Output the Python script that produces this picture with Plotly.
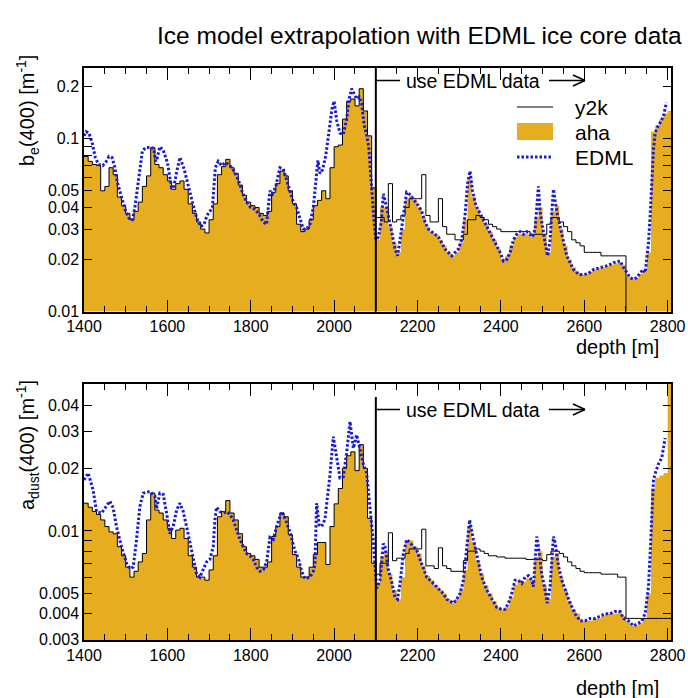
import plotly.graph_objects as go

# ---------------- data ----------------
bin_width = 10
depth_bins = list(range(1400, 2810, 10))  # bin left edges 1400..2800

# top panel (b_e) : aha histogram (left part identical to y2k)
be_aha_left = [0.079, 0.074, 0.071, 0.070, 0.050, 0.053, 0.068, 0.062, 0.046, 0.041,
               0.037, 0.034, 0.038, 0.043, 0.053, 0.061, 0.089, 0.071, 0.068, 0.062,
               0.057, 0.051, 0.055, 0.057, 0.051, 0.042, 0.037, 0.033, 0.030, 0.0285,
               0.034, 0.042, 0.062, 0.069, 0.076, 0.068, 0.063, 0.054, 0.047, 0.043,
               0.041, 0.040, 0.037, 0.036, 0.038, 0.049, 0.055, 0.065, 0.061, 0.050,
               0.042, 0.032, 0.029, 0.030, 0.034, 0.041, 0.044, 0.050, 0.045, 0.068,
               0.090, 0.092, 0.130, 0.165, 0.170, 0.155, 0.195, 0.145, 0.104, 0.052]
be_aha_right = [0.026, 0.040, 0.040, 0.031, 0.025, 0.022, 0.030, 0.045, 0.047, 0.044,
                0.040, 0.035, 0.031, 0.029, 0.028, 0.026, 0.024, 0.022, 0.021, 0.022,
                0.025, 0.034, 0.058, 0.046, 0.039, 0.035, 0.032, 0.029, 0.026, 0.023,
                0.020, 0.021, 0.024, 0.027, 0.028, 0.028, 0.028, 0.027, 0.035, 0.040,
                0.028, 0.022, 0.038, 0.041, 0.030, 0.024, 0.020, 0.018, 0.0168, 0.0164,
                0.0165, 0.017, 0.0175, 0.0178, 0.018, 0.0183, 0.0186, 0.019, 0.0192, 0.0185,
                0.016, 0.0155, 0.0155, 0.0165, 0.017, 0.022, 0.110, 0.120, 0.130, 0.140,
                0.145]
be_y2k_right = [0.035, 0.035, 0.033, 0.055, 0.033, 0.034, 0.036, 0.040, 0.045, 0.045,
                0.045, 0.062, 0.036, 0.033, 0.033, 0.045, 0.031, 0.028, 0.028, 0.026,
                0.026, 0.028, 0.034, 0.034, 0.036, 0.035, 0.034, 0.032, 0.031, 0.030,
                0.029, 0.029, 0.029, 0.029, 0.029, 0.029, 0.029, 0.028, 0.028, 0.028,
                0.028, 0.032, 0.035, 0.035, 0.033, 0.031, 0.029, 0.026, 0.025, 0.024,
                0.022, 0.022, 0.022, 0.022, 0.021, 0.021, 0.021, 0.021, 0.021, 0.021,
                0.005, 0.005, 0.005, 0.005, 0.005, 0.005, 0.005, 0.005, 0.005, 0.005,
                0.005]

be_edml_depth = [1400, 1405, 1412, 1420, 1427, 1435, 1445, 1452, 1460, 1467, 1473, 1480, 1490,
                 1500, 1510, 1516, 1522, 1530, 1540, 1548, 1560, 1567, 1572, 1576, 1582, 1590,
                 1600, 1610, 1615, 1622, 1630, 1640, 1650, 1660, 1670, 1680, 1688, 1695, 1702,
                 1708, 1715, 1722, 1730, 1740, 1750, 1760, 1770, 1780, 1790, 1800, 1810, 1820,
                 1830, 1838, 1846, 1852, 1860, 1870, 1878, 1886, 1894, 1902, 1910, 1918, 1926,
                 1934, 1942, 1950, 1956, 1961, 1966, 1972, 1980, 1988, 1995, 2000, 2006, 2014,
                 2022, 2030, 2036, 2042, 2048, 2054, 2060, 2066, 2072, 2078, 2083, 2090, 2095,
                 2100, 2106, 2113, 2118, 2124, 2130, 2138, 2146, 2152, 2158, 2166, 2174, 2180,
                 2186, 2194, 2202, 2210, 2218, 2226, 2234, 2242, 2250, 2258, 2266, 2274, 2282,
                 2290, 2298, 2306, 2314, 2320, 2326, 2332, 2340, 2350, 2358, 2366, 2374, 2382,
                 2390, 2398, 2406, 2414, 2422, 2430, 2438, 2446, 2454, 2462, 2470, 2476, 2482,
                 2486, 2490, 2494, 2500, 2506, 2512, 2518, 2522, 2526, 2530, 2534, 2542, 2550,
                 2558, 2566, 2574, 2582, 2590, 2600, 2610, 2622, 2634, 2646, 2658, 2670, 2680,
                 2686, 2694, 2702, 2710, 2718, 2726, 2734, 2742, 2746, 2750, 2754, 2758, 2761,
                 2764, 2766, 2770, 2774, 2782, 2790, 2794, 2797]
be_edml = [0.104, 0.110, 0.108, 0.094, 0.078, 0.071, 0.070, 0.073, 0.079, 0.078, 0.070, 0.056, 0.046,
           0.038, 0.034, 0.034, 0.040, 0.056, 0.085, 0.089, 0.089, 0.088, 0.074, 0.078, 0.090, 0.086,
           0.073, 0.052, 0.052, 0.064, 0.078, 0.067, 0.053, 0.043, 0.035, 0.031, 0.032, 0.036, 0.038,
           0.040, 0.068, 0.074, 0.070, 0.073, 0.070, 0.065, 0.058, 0.049, 0.043, 0.040, 0.039, 0.0365,
           0.033, 0.032, 0.050, 0.048, 0.053, 0.068, 0.067, 0.058, 0.049, 0.043, 0.040, 0.034, 0.030,
           0.030, 0.032, 0.040, 0.060, 0.075, 0.063, 0.066, 0.080, 0.110, 0.150, 0.165, 0.128, 0.108,
           0.106, 0.130, 0.170, 0.195, 0.180, 0.170, 0.175, 0.160, 0.120, 0.105, 0.090, 0.050, 0.035,
           0.026, 0.027, 0.033, 0.048, 0.042, 0.035, 0.029, 0.023, 0.021, 0.026, 0.037, 0.049, 0.048,
           0.046, 0.043, 0.041, 0.038, 0.033, 0.030, 0.029, 0.028, 0.027, 0.025, 0.023, 0.022, 0.021,
           0.022, 0.023, 0.026, 0.036, 0.055, 0.065, 0.050, 0.041, 0.037, 0.034, 0.031, 0.0286, 0.026,
           0.024, 0.022, 0.0196, 0.020, 0.022, 0.026, 0.028, 0.029, 0.028, 0.029, 0.028, 0.027, 0.030,
           0.040, 0.053, 0.038, 0.030, 0.025, 0.021, 0.026, 0.037, 0.051, 0.044, 0.038, 0.031, 0.025,
           0.021, 0.0192, 0.0175, 0.0168, 0.0164, 0.0164, 0.0166, 0.0175, 0.0178, 0.0182, 0.0185, 0.0192, 0.0194,
           0.0196, 0.018, 0.0168, 0.0157, 0.0154, 0.0157, 0.0168, 0.0175, 0.0168, 0.020, 0.025, 0.036, 0.050,
           0.070, 0.087, 0.108, 0.115, 0.124, 0.135, 0.150, 0.162]

# bottom panel (a_dust)
ad_aha_left = [0.0136, 0.0130, 0.0124, 0.0120, 0.0113, 0.0105, 0.0099, 0.0097, 0.0084, 0.0076,
               0.0067, 0.0060, 0.0064, 0.0071, 0.0078, 0.0113, 0.0152, 0.0126, 0.0122, 0.0113,
               0.0103, 0.0092, 0.0101, 0.0103, 0.0092, 0.0076, 0.0067, 0.0060, 0.0060, 0.0058,
               0.0065, 0.0076, 0.0117, 0.0124, 0.0140, 0.0122, 0.0113, 0.0097, 0.0084, 0.0078,
               0.0076, 0.0073, 0.0067, 0.0067, 0.0071, 0.0094, 0.0105, 0.0122, 0.0117, 0.0096,
               0.0077, 0.0067, 0.0060, 0.0060, 0.0067, 0.0077, 0.0088, 0.0088, 0.0069, 0.0105,
               0.0135, 0.0160, 0.0200, 0.0230, 0.0240, 0.0195, 0.0260, 0.0200, 0.0115, 0.0070]
ad_aha_right = [0.0055, 0.0075, 0.0080, 0.0062, 0.0052, 0.0047, 0.0060, 0.0088, 0.0090, 0.0084,
                0.0078, 0.0068, 0.0061, 0.0058, 0.0055, 0.0052, 0.0050, 0.0047, 0.0045, 0.0047,
                0.0052, 0.0065, 0.0105, 0.0088, 0.0072, 0.0062, 0.0055, 0.0050, 0.0046, 0.0043,
                0.0042, 0.0043, 0.0048, 0.0055, 0.0058, 0.0057, 0.0059, 0.0058, 0.0075, 0.0080,
                0.0055, 0.0047, 0.0075, 0.0078, 0.0060, 0.0052, 0.0046, 0.0042, 0.0040, 0.0037,
                0.0037, 0.0037, 0.0038, 0.0038, 0.0039, 0.0040, 0.0040, 0.0040, 0.0041, 0.0039,
                0.0037, 0.0035, 0.0035, 0.0036, 0.0038, 0.0050, 0.0160, 0.0180, 0.0185, 0.0190,
                0.0600]
ad_y2k_right = [0.0062, 0.0070, 0.0070, 0.0098, 0.0072, 0.0074, 0.0074, 0.0078, 0.0082, 0.0082,
                0.0082, 0.0102, 0.0068, 0.0068, 0.0066, 0.0083, 0.0068, 0.0066, 0.0064, 0.0064,
                0.0064, 0.0072, 0.0080, 0.0080, 0.0082, 0.0080, 0.0078, 0.0076, 0.0076, 0.0075,
                0.0075, 0.0074, 0.0074, 0.0074, 0.0074, 0.0074, 0.0073, 0.0073, 0.0073, 0.0073,
                0.0072, 0.0077, 0.0080, 0.0080, 0.0078, 0.0075, 0.0071, 0.0068, 0.0066, 0.0064,
                0.0063, 0.0063, 0.0063, 0.0063, 0.0062, 0.0062, 0.0062, 0.0062, 0.0060, 0.0060,
                0.0038, 0.0038, 0.0038, 0.0038, 0.0038, 0.0038, 0.0038, 0.0038, 0.0038, 0.0038,
                0.0038]

ad_edml_depth = [1400, 1410, 1422, 1430, 1442, 1454, 1462, 1470, 1478, 1490, 1502, 1510, 1518,
                 1526, 1534, 1542, 1558, 1570, 1574, 1582, 1590, 1598, 1606, 1614, 1622, 1630,
                 1638, 1646, 1654, 1662, 1670, 1678, 1686, 1694, 1702, 1710, 1714, 1718, 1726,
                 1734, 1742, 1750, 1758, 1766, 1774, 1782, 1790, 1798, 1806, 1814, 1822, 1830,
                 1838, 1846, 1854, 1862, 1874, 1882, 1894, 1906, 1914, 1922, 1930, 1942, 1950,
                 1954, 1958, 1964, 1970, 1978, 1990, 1998, 2006, 2014, 2022, 2030, 2038, 2046,
                 2054, 2062, 2070, 2078, 2086, 2094, 2102, 2110, 2118, 2122, 2130, 2138, 2146,
                 2152, 2158, 2166, 2174, 2182, 2190, 2198, 2206, 2214, 2222, 2230, 2238, 2246,
                 2254, 2262, 2270, 2278, 2286, 2294, 2302, 2310, 2318, 2325, 2334, 2342, 2354,
                 2366, 2378, 2390, 2402, 2410, 2418, 2426, 2434, 2442, 2450, 2458, 2466, 2474,
                 2478, 2482, 2486, 2490, 2498, 2506, 2511, 2518, 2522, 2526, 2530, 2538, 2546,
                 2554, 2566, 2578, 2590, 2602, 2614, 2626, 2638, 2650, 2662, 2674, 2686, 2694,
                 2706, 2718, 2730, 2738, 2746, 2754, 2758, 2762, 2766, 2770, 2778, 2786, 2790,
                 2794]
ad_edml = [0.0176, 0.0190, 0.0157, 0.0124, 0.0122, 0.0133, 0.0139, 0.0129, 0.0105, 0.0084, 0.0070, 0.0066, 0.0067,
           0.0091, 0.0131, 0.0152, 0.0155, 0.0147, 0.0128, 0.0152, 0.0150, 0.0122, 0.0097, 0.0105, 0.0126, 0.0136,
           0.0124, 0.0105, 0.0087, 0.0073, 0.0062, 0.0060, 0.0065, 0.0071, 0.0073, 0.0084, 0.0113, 0.0130, 0.0124,
           0.0122, 0.0124, 0.0120, 0.0113, 0.0101, 0.0091, 0.0084, 0.0078, 0.0076, 0.0073, 0.0067, 0.0064, 0.0065,
           0.0071, 0.0093, 0.0091, 0.0105, 0.0124, 0.0115, 0.0099, 0.0080, 0.0074, 0.0064, 0.0059, 0.0060, 0.0064,
           0.0069, 0.0136, 0.0107, 0.0105, 0.0114, 0.0186, 0.0284, 0.0230, 0.0180, 0.0182, 0.0238, 0.0336, 0.0250,
           0.0290, 0.0250, 0.0210, 0.0190, 0.0130, 0.0088, 0.0053, 0.0058, 0.0087, 0.0084, 0.0065, 0.0057, 0.0048,
           0.0047, 0.0056, 0.0078, 0.0091, 0.0088, 0.0084, 0.0081, 0.0073, 0.0066, 0.0060, 0.0058, 0.0056, 0.0054,
           0.0052, 0.0050, 0.0047, 0.0046, 0.0045, 0.0047, 0.0050, 0.0058, 0.0084, 0.0113, 0.0091, 0.0076, 0.0060,
           0.0052, 0.0047, 0.0043, 0.0042, 0.0042, 0.0045, 0.0050, 0.0058, 0.0058, 0.0056, 0.0060, 0.0061, 0.0058,
           0.0054, 0.0073, 0.0094, 0.0084, 0.0062, 0.0052, 0.0045, 0.0054, 0.0073, 0.0094, 0.0088, 0.0068, 0.0058,
           0.0052, 0.0045, 0.0040, 0.0037, 0.0037, 0.0038, 0.0038, 0.0039, 0.0040, 0.0040, 0.0041, 0.0041, 0.0038,
           0.0037, 0.0035, 0.0036, 0.0037, 0.0040, 0.0054, 0.0078, 0.0113, 0.0176, 0.0189, 0.0210, 0.0225, 0.0250,
           0.0280]

be_ticks = [0.01, 0.02, 0.03, 0.04, 0.05, 0.06, 0.07, 0.08, 0.09, 0.1, 0.2]
be_labels = ["0.01", "0.02", "0.03", "0.04", "0.05", "", "", "", "", "0.1", "0.2"]
ad_ticks = [0.003, 0.004, 0.005, 0.006, 0.007, 0.008, 0.009, 0.01, 0.02, 0.03, 0.04]
ad_labels = ["0.003", "0.004", "0.005", "", "", "", "", "0.01", "0.02", "0.03", "0.04"]

title_text = "Ice model extrapolation with EDML ice core data"
switch_depth = 2100

# ---------------- styling ----------------
ORANGE = "#E6AD20"
BLUE = "#1a1ad2"
FONT = "Liberation Sans, Arial, Helvetica, sans-serif"
W, H = 688, 698
ML, MR, MT, MB = 84, 17, 68, 58
PW, PH = W - ML - MR, H - MT - MB


def px2x(px):
    return (px - ML) / PW


def py2y(py):
    return (H - MB - py) / PH


top_dom = [py2y(311.5), 1.0]
bot_dom = [0.0, py2y(384.3)]

fig = go.Figure()


def add_panel(aha_left, aha_right, y2k_right, edml_d, edml_v, xa, ya):
    aha = aha_left + aha_right
    y2k = aha_left + y2k_right
    xe = depth_bins + [depth_bins[-1] + bin_width]
    base = 1e-6
    fig.add_trace(go.Scatter(
        x=xe + [xe[-1], xe[0]], y=aha + [aha[-1], base, base],
        mode="lines", line=dict(width=0, shape="hv"), fill="toself",
        fillcolor=ORANGE, showlegend=False, hoverinfo="skip", xaxis=xa, yaxis=ya))
    fig.add_trace(go.Scatter(
        x=xe, y=y2k + [y2k[-1]], mode="lines",
        line=dict(color="black", width=1, shape="hv"),
        showlegend=False, xaxis=xa, yaxis=ya))
    fig.add_trace(go.Scatter(
        x=edml_d, y=edml_v, mode="lines",
        line=dict(color=BLUE, width=3, dash="2.5px,2px"),
        showlegend=False, xaxis=xa, yaxis=ya))


add_panel(be_aha_left, be_aha_right, be_y2k_right, be_edml_depth, be_edml, "x", "y")
add_panel(ad_aha_left, ad_aha_right, ad_y2k_right, ad_edml_depth, ad_edml, "x2", "y2")

xcommon = dict(range=[1400, 2808], showgrid=False, zeroline=False, showline=True,
               linecolor="black", linewidth=1.5, mirror="allticks", ticks="inside",
               ticklen=12, tickwidth=1, tickcolor="black", tick0=1400, dtick=200,
               automargin=False,
               tickfont=dict(family=FONT, size=16, color="black"),
               minor=dict(dtick=50, ticklen=6, ticks="inside", tickcolor="black",
                          tickwidth=1, showgrid=False))
ycommon = dict(type="log", showgrid=False, zeroline=False, showline=True,
               linecolor="black", linewidth=1.5, mirror="allticks", ticks="inside",
               ticklen=8, tickwidth=1, tickcolor="black", automargin=False,
               tickfont=dict(family=FONT, size=16, color="black"))

fig.update_layout(
    width=W, height=H, margin=dict(l=ML, r=MR, t=MT, b=MB, autoexpand=False),
    paper_bgcolor="white", plot_bgcolor="white", showlegend=False,
    xaxis=dict(domain=[0, 1], anchor="y", **xcommon),
    xaxis2=dict(domain=[0, 1], anchor="y2", **xcommon),
    yaxis=dict(domain=top_dom, anchor="x", range=[-2, -0.59],
               tickvals=be_ticks, ticktext=be_labels, **ycommon),
    yaxis2=dict(domain=bot_dom, anchor="x2", range=[-2.524, -1.295],
                tickvals=ad_ticks, ticktext=ad_labels, **ycommon),
)

shapes = []
annots = []

# vertical switch lines
shapes.append(dict(type="line", xref="x", yref="y domain", x0=switch_depth, x1=switch_depth,
                   y0=0, y1=1, line=dict(color="black", width=2)))
shapes.append(dict(type="line", xref="x2", yref="y2 domain", x0=switch_depth, x1=switch_depth,
                   y0=0, y1=(640 - 397) / (640 - 384.3), line=dict(color="black", width=2)))

# "use EDML data" arrows
for ly in (80.5, 409.5):
    for (xa0, ya0, xa1, ya1) in [(376, ly, 400, ly), (549, ly, 585, ly),
                                 (585, ly, 573, ly - 5.5), (585, ly, 573, ly + 5.5)]:
        shapes.append(dict(type="line", xref="paper", yref="paper",
                           x0=px2x(xa0), y0=py2y(ya0), x1=px2x(xa1), y1=py2y(ya1),
                           line=dict(color="black", width=1.5)))
    annots.append(dict(text="use EDML data", x=px2x(404), y=py2y(ly), xref="paper", yref="paper",
                       xanchor="left", yanchor="middle", showarrow=False,
                       font=dict(family=FONT, size=19.5, color="black")))

# legend
shapes.append(dict(type="line", xref="paper", yref="paper", x0=px2x(517), x1=px2x(553),
                   y0=py2y(107), y1=py2y(107), line=dict(color="black", width=1)))
shapes.append(dict(type="rect", xref="paper", yref="paper", x0=px2x(517), x1=px2x(553),
                   y0=py2y(140), y1=py2y(123), fillcolor=ORANGE, line=dict(width=0)))
shapes.append(dict(type="line", xref="paper", yref="paper", x0=px2x(517), x1=px2x(553),
                   y0=py2y(157), y1=py2y(157), line=dict(color=BLUE, width=3, dash="2.5px,2px")))
for txt, ty in (("y2k", 107), ("aha", 132), ("EDML", 157)):
    annots.append(dict(text=txt, x=px2x(573), y=py2y(ty), xref="paper", yref="paper",
                       xanchor="left", yanchor="middle", showarrow=False,
                       font=dict(family=FONT, size=21, color="black")))

# title
annots.append(dict(text=title_text, x=px2x(684), y=py2y(36), xref="paper", yref="paper",
                   xanchor="right", yanchor="middle", showarrow=False,
                   font=dict(family=FONT, size=24.5, color="black")))
# axis titles
for ty in (347, 688):
    annots.append(dict(text="depth [m]", x=px2x(661), y=py2y(ty), xref="paper", yref="paper",
                       xanchor="right", yanchor="middle", showarrow=False,
                       font=dict(family=FONT, size=20, color="black")))
annots.append(dict(text="b<sub>e</sub>(400) [m<sup>-1</sup>]", x=px2x(27), y=py2y(110),
                   xref="paper", yref="paper", xanchor="center", yanchor="middle",
                   textangle=-90, showarrow=False, font=dict(family=FONT, size=20, color="black")))
annots.append(dict(text="a<sub>dust</sub>(400) [m<sup>-1</sup>]", x=px2x(27), y=py2y(445),
                   xref="paper", yref="paper", xanchor="center", yanchor="middle",
                   textangle=-90, showarrow=False, font=dict(family=FONT, size=20, color="black")))

fig.update_layout(shapes=shapes, annotations=annots)
fig.write_html("out.html")
